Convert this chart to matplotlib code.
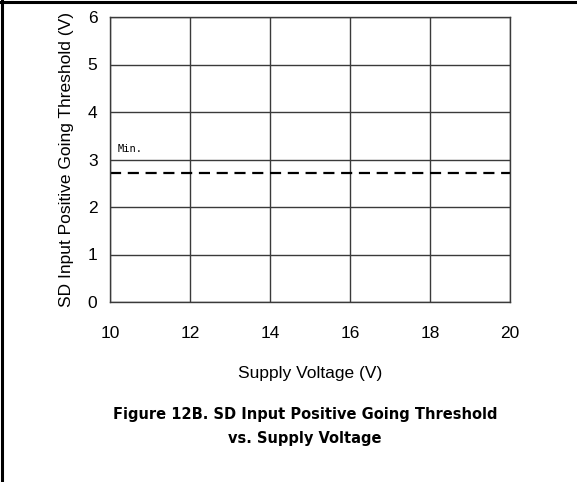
import matplotlib.pyplot as plt
from matplotlib.lines import Line2D

# Axis ranges and ticks
x_ticks = [10, 12, 14, 16, 18, 20]
y_ticks = [0, 1, 2, 3, 4, 5, 6]

# Minimum threshold (flat across supply voltage)
supply_v = [10, 20]
min_threshold = [2.72, 2.72]

plt.rcParams["font.family"] = ["Liberation Sans", "DejaVu Sans"]

fig = plt.figure(figsize=(5.77, 4.82), dpi=100)
ax = fig.add_axes([110 / 577, 1 - 302 / 482, 400 / 577, 285 / 482])

ax.set_xlim(10, 20)
ax.set_ylim(0, 6)
ax.set_xticks(x_ticks)
ax.set_yticks(y_ticks)
ax.tick_params(length=0, labelsize=12.5, pad=9)
ax.tick_params(axis="x", pad=17)
ax.grid(True, color="#3a3a3a", linewidth=1.0)
for s in ax.spines.values():
    s.set_color("#3a3a3a")
    s.set_linewidth(1.0)

ax.plot(supply_v, min_threshold, color="black", linestyle=(0, (5, 3)), linewidth=1.6)

# "Min." label sits in a gap of the 3 V gridline
ax.text(10.2, 3.12, "Min.", family="DejaVu Sans Mono", fontsize=7.5,
        ha="left", va="bottom", zorder=5,
        bbox=dict(facecolor="white", edgecolor="none", pad=3.0))

ax.set_xlabel("Supply Voltage (V)", fontsize=12.5, labelpad=18)
ax.set_ylabel("SD Input Positive Going Threshold (V)", fontsize=12.5, labelpad=10)

cap_x = 305 / 577
fig.text(cap_x, 1 - 414 / 482, "Figure 12B. SD Input Positive Going Threshold",
         ha="center", va="center", fontsize=11.7, fontweight="bold",
         family="DejaVu Sans", fontstretch="condensed")
fig.text(cap_x, 1 - 439 / 482, "vs. Supply Voltage",
         ha="center", va="center", fontsize=11.7, fontweight="bold",
         family="DejaVu Sans", fontstretch="condensed")

# frame lines on the left and top edges
fig.add_artist(Line2D([2 / 577, 2 / 577], [0, 1], color="black", linewidth=2.2,
                      transform=fig.transFigure))
fig.add_artist(Line2D([0, 1], [1 - 1.5 / 482, 1 - 1.5 / 482], color="black", linewidth=2.2,
                      transform=fig.transFigure))

fig.savefig("out.png", dpi=100)
